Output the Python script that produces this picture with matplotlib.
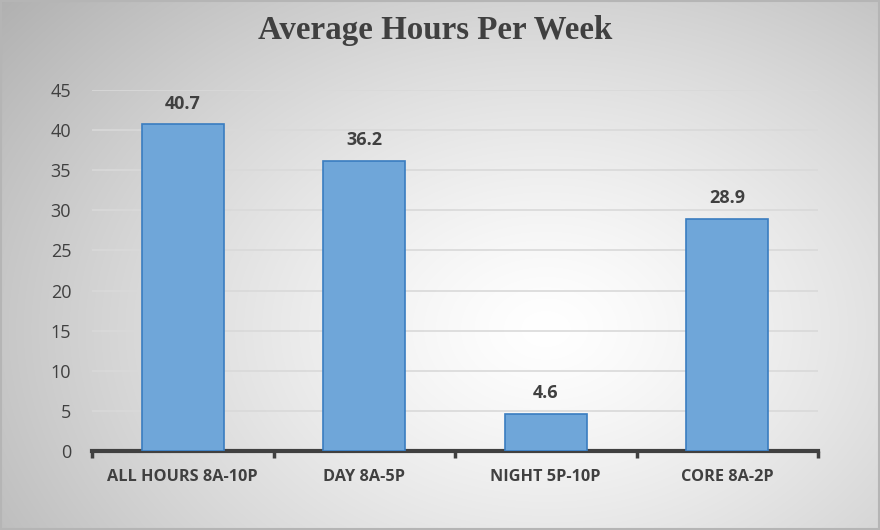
import numpy as np
import matplotlib
matplotlib.use("Agg")
import matplotlib.pyplot as plt
from matplotlib.patches import Rectangle

categories = ["ALL HOURS 8A-10P", "DAY 8A-5P", "NIGHT 5P-10P", "CORE 8A-2P"]
values = [40.7, 36.2, 4.6, 28.9]
yticks = [0, 5, 10, 15, 20, 25, 30, 35, 40, 45]
title = "Average Hours Per Week"

W, H = 880, 530
fig = plt.figure(figsize=(W / 100, H / 100), dpi=100)

# radial gradient background
bg = fig.add_axes([0, 0, 1, 1], zorder=0)
yy, xx = np.mgrid[0:H, 0:W]
cx, cy = 0.62 * W, 0.62 * H
r = np.sqrt(((xx - cx) / (0.62 * W)) ** 2 + ((yy - cy) / (0.75 * H)) ** 2)
shade = 1.0 - 0.22 * np.clip(r, 0, 1.3) ** 1.3
img = np.dstack([shade, shade, shade])
bg.imshow(img, extent=[0, W, H, 0], aspect="auto", interpolation="bilinear")
bg.set_xlim(0, W)
bg.set_ylim(H, 0)
bg.axis("off")
bg.add_patch(Rectangle((1, 1), W - 2, H - 2, fill=False, ec="#b5b5b5", lw=1.5))

ax = fig.add_axes([92 / W, 1 - 451 / H, (818 - 92) / W, (451 - 90) / H], zorder=1)
ax.patch.set_alpha(0)

x = np.arange(len(categories))
bars = ax.bar(x, values, width=0.45, color="#6fa6d9", edgecolor="#3a7dc0", linewidth=1.2, zorder=3)
for xi, v in zip(x, values):
    ax.annotate(f"{v}", (xi, v), xytext=(0, 11.5), textcoords="offset points",
                ha="center", va="baseline", fontsize=13, fontweight="bold",
                family="Open Sans", color="#404040")

ax.set_xlim(-0.5, len(categories) - 0.5)
ax.set_ylim(0, 45)
ax.set_yticks(yticks)
ax.set_yticklabels([str(t) for t in yticks], family="Open Sans", fontsize=13, color="#404040")
ax.yaxis.grid(True, color="#d9d9d9", lw=1.2, zorder=0)
ax.set_axisbelow(True)
ax.tick_params(axis="y", length=0, pad=15)

ax.set_xticks(x)
ax.set_xticklabels(categories, family="Open Sans", fontsize=11.7, fontweight="bold", color="#404040")
ax.tick_params(axis="x", which="major", length=0, pad=13)
ax.set_xticks(np.arange(-0.5, len(categories)), minor=True)
ax.tick_params(axis="x", which="minor", length=5, width=2.5, color="#404040", direction="out")

for s in ["left", "right", "top"]:
    ax.spines[s].set_visible(False)
ax.spines["bottom"].set_color("#404040")
ax.spines["bottom"].set_linewidth(3)

fig.text(435.5 / W, 1 - 39 / H, title, ha="center", va="baseline", fontsize=23.8, fontweight="bold",
         family="Liberation Serif", color="#404040")

fig.savefig("out.png", dpi=100)
